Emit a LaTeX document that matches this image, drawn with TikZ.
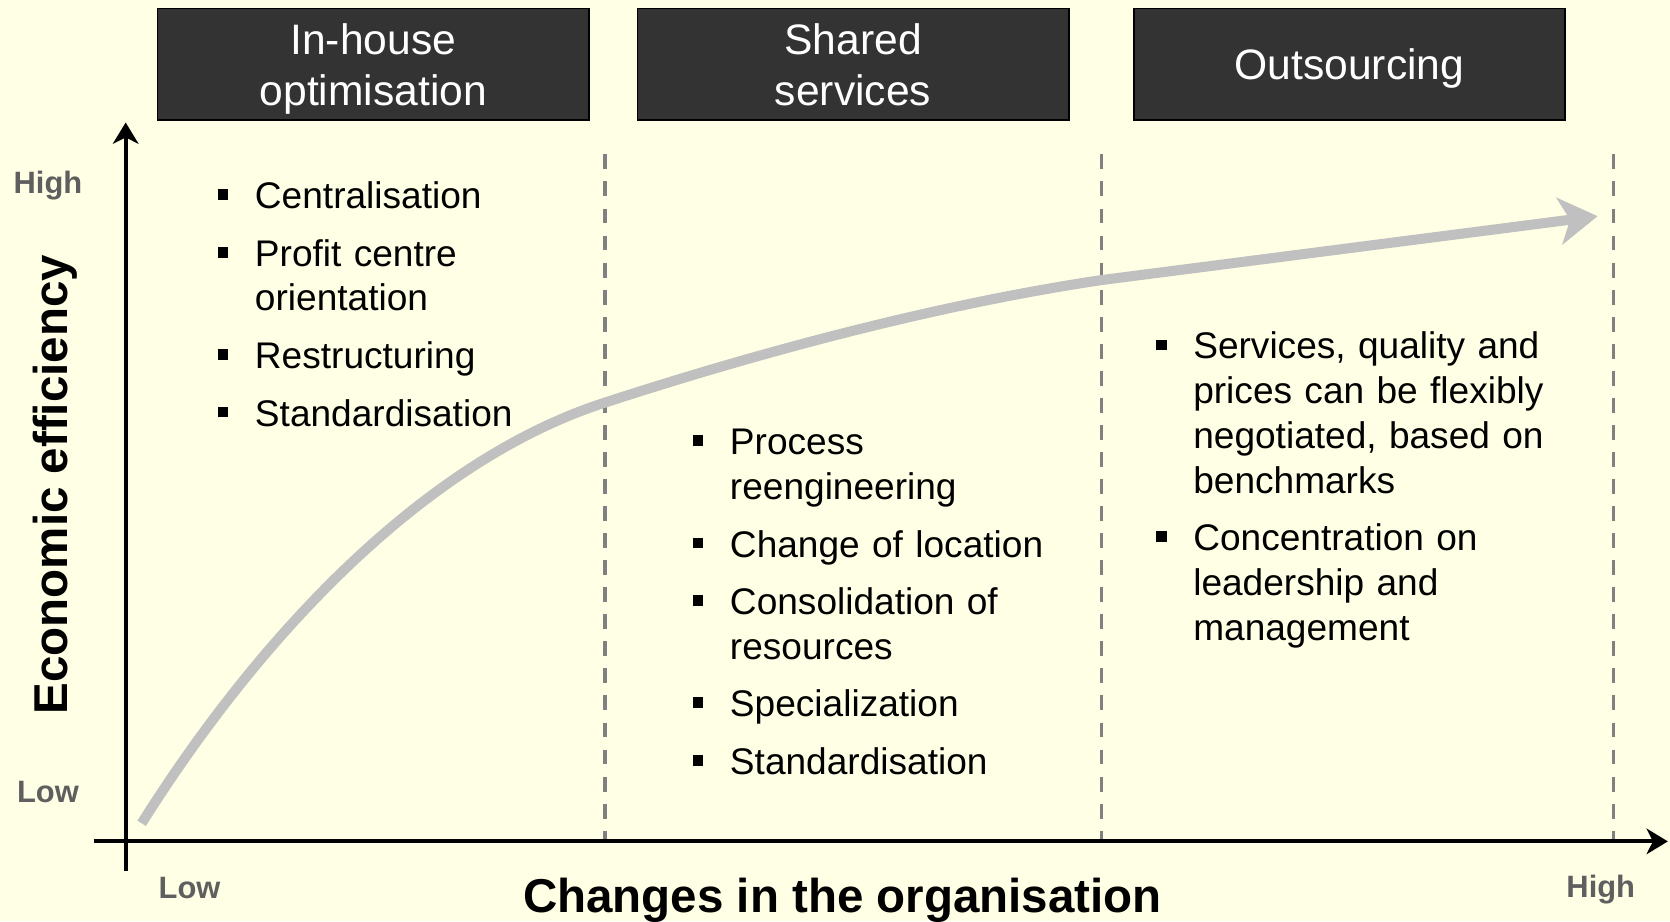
\documentclass[tikz,border=0pt]{standalone}
\usepackage{fontspec}
\setmainfont{Liberation Sans}
\usetikzlibrary{arrows.meta}

\definecolor{paper}{HTML}{FFFFE5}
\definecolor{headfill}{HTML}{333333}
\definecolor{scalegray}{HTML}{5F5F5F}
\definecolor{dashgray}{HTML}{808080}
\definecolor{curvegray}{HTML}{C0C0C0}

\newenvironment{squarelist}
    {\begin{list}{\raisebox{4.1pt}{\rule{5pt}{5pt}}}
        {\setlength{\leftmargin}{17.5pt}
         \setlength{\labelwidth}{5pt}
         \setlength{\labelsep}{12.5pt}
         \setlength{\itemsep}{6pt}
         \setlength{\parsep}{0pt}
         \setlength{\topsep}{0pt}
         \setlength{\partopsep}{0pt}}}
    {\end{list}}

\tikzstyle{headbox}=[rectangle,
                         draw=black,
                         line width=0.8pt,
                         fill=headfill,
                         text=white,
                         text depth=0pt,
                         minimum width=202.5pt,
                         minimum height=52.5pt,
                         align=center,
                         font=\fontsize{20}{24}\selectfont]
\tikzstyle{bulletcol}=[anchor=base west,
                         inner sep=0pt,
                         align=left,
                         font=\fontsize{17.4}{21}\selectfont]
\tikzstyle{scalelabel}=[text=scalegray,
                         font=\fontsize{14.5}{17}\selectfont\bfseries]
\tikzstyle{axistitle}=[font=\fontsize{22.3}{26}\selectfont\bfseries]
\tikzstyle{axisline}=[line width=1.8pt,
                         -{Stealth[length=10pt,width=12pt,inset=3pt]}]
\tikzstyle{phaseline}=[dashgray,
                         line width=1.5pt,
                         dash pattern=on 7pt off 5.7pt]
\tikzstyle{trendline}=[curvegray,
                         line width=4.7pt,
                         -{Stealth[length=18pt,width=22pt,inset=5pt]}]

\begin{document}
\begin{tikzpicture}[x=0.5pt,y=-0.5pt]
    \fill [paper] (0,0) rectangle (1568,865);
    \useasboundingbox (0,0) rectangle (1568,865);

    \node [headbox] (inhouse) at (350.5,60.5) {In-house\\optimisation};
    \node [headbox] (shared) at (801,60.5) {Shared\\services};
    \node [headbox] (outsourcing) at (1267,60.5) {Outsourcing};

    \foreach \x in {568,1034,1515}
        \draw [phaseline] (\x,145) -- (\x,790);

    \coordinate (ybottom) at (118,818);
    \coordinate (ytop) at (118,115);
    \coordinate (xleft) at (88,790);
    \coordinate (xright) at (1566,790);
    \draw [axisline] (ybottom) -- (ytop);
    \draw [axisline] (xleft) -- (xright);

    \node [scalelabel] (yhigh) at (45,174) {High};
    \node [scalelabel] (ylow) at (45,744) {Low};
    \node [scalelabel] (xlow) at (178,834) {Low};
    \node [scalelabel] (xhigh) at (1503,835) {High};
    \node [axistitle, rotate=90] (ytitle) at (52,455) {Economic efficiency};
    \node [axistitle] (xtitle) at (791,845) {Changes in the organisation};

    \coordinate (cstart) at (133,773);
    \coordinate (cbend) at (568,378);
    \coordinate (cknee) at (1034,263);
    \coordinate (cend) at (1500,203);
    \draw [trendline] (cstart) .. controls (245,595) and (400,432) .. (cbend)
        .. controls (740,322) and (900,283) .. (cknee) -- (cend);

    \node [bulletcol, text width=150pt] (inhouselist) at (204,154)
        {\begin{squarelist}
            \item Centralisation
            \item Profit centre\\orientation
            \item Restructuring
            \item Standardisation
        \end{squarelist}};
    \node [bulletcol, text width=170pt] (sharedlist) at (650,385)
        {\begin{squarelist}
            \item Process\\reengineering
            \item Change of location
            \item Consolidation of\\resources
            \item Specialization
            \item Standardisation
        \end{squarelist}};
    \node [bulletcol, text width=200pt] (outsourcinglist) at (1085,295)
        {\begin{squarelist}
            \item Services, quality and\\prices can be flexibly\\negotiated, based on\\benchmarks
            \item Concentration on\\leadership and\\management
        \end{squarelist}};
\end{tikzpicture}
\end{document}
